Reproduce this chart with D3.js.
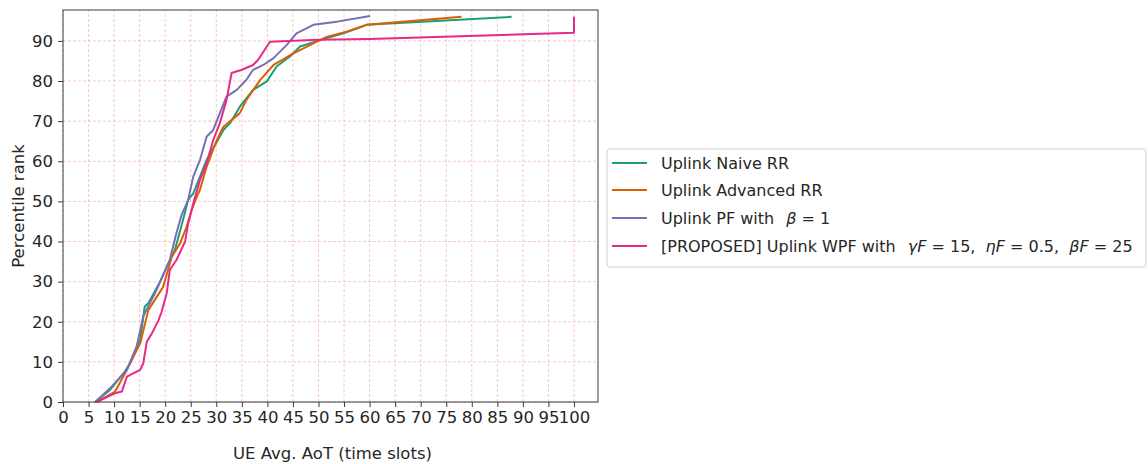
<!DOCTYPE html>
<html>
<head>
<meta charset="utf-8">
<script src="https://cdn.jsdelivr.net/npm/d3@7"></script>
<style>
  body { margin: 0; background: #fff; }
  text { font-family: "DejaVu Sans", sans-serif; fill: #262626; }
</style>
</head>
<body>
<svg id="chart" width="1148" height="464"></svg>
<script>
const width = 1148;
const height = 464;
const marginLeft = 63;
const marginRight = 550;
const marginTop = 10;
const marginBottom = 62;
const fontSize = "16.5px";
const legendFontSize = "16px";

// [AoT, percentile] pairs
const naiveRR = [
    [6.3, 0], [9.2, 3], [12.1, 7.6], [13.1, 9.6], [15.1, 15.5], [16, 23.8], [16.7, 24.6],
    [19, 30], [20.3, 33.7], [21.9, 37.9], [23.5, 45.4], [24.5, 50.4], [25.5, 52],
    [28.1, 60.3], [31.4, 67.8], [32.7, 69.5], [34.6, 73.6], [37.2, 77.8], [39.9, 79.9],
    [41.8, 83.6], [44.4, 86.1], [46.4, 88.6], [50.3, 90.2], [54.9, 91.9], [58.1, 93.4],
    [59.4, 94], [87.8, 96]
];
const advancedRR = [
    [6.6, 0], [10.2, 2.6], [12.5, 8], [15.1, 14.6], [16.7, 22.9], [19.6, 28.7],
    [21.3, 36.2], [22.9, 39.5], [24.2, 43.7], [25.2, 47.9], [26.2, 51.2], [26.8, 52.9],
    [28.1, 58.6], [30.1, 65.3], [31.4, 68.6], [34.6, 72], [35.9, 75.3], [38.6, 80.3],
    [41.2, 84], [45.1, 86.9], [49, 89.4], [51.6, 91], [55.5, 92.3], [58.1, 93.4],
    [59.4, 94], [78, 96]
];
const pfBeta1 = [
    [6.3, 0], [9.2, 3.4], [12.5, 8], [14.4, 13.8], [15.7, 21.3], [18.3, 27.9],
    [20.9, 35.4], [22.2, 42.1], [23.2, 46.6], [24.5, 50.4], [25.5, 56.2], [26.8, 60.3],
    [28.1, 66.1], [29.4, 67.8], [30.7, 72], [32, 76.1], [34, 77.8], [35.9, 80.3],
    [37.2, 82.8], [39.2, 84], [41.2, 85.7], [43.8, 89], [45.7, 91.9], [49, 94],
    [53.6, 94.8], [60.1, 96.2]
];
const proposedWPF = [
    [6.6, 0], [10.2, 2.2], [11.5, 2.6], [12.5, 6.3], [15.1, 8], [15.7, 9.6], [16.4, 15],
    [17.4, 17.1], [18.7, 20.4], [19.3, 22.5], [20.3, 27.1], [20.9, 32.9], [22.2, 35.4],
    [23.9, 40], [24.5, 44.5], [25.5, 49.5], [26.8, 55.3], [28.1, 59.5], [29.4, 65.3],
    [30.7, 69.5], [32, 75.3], [33, 82], [35, 82.8], [37.2, 84], [38.2, 85.3], [40.5, 89.8],
    [50, 90.3], [60, 90.5], [100, 92], [100, 96]
];

const seriesNames = [
    "Uplink Naive RR",
    "Uplink Advanced RR",
    "Uplink PF with β = 1",
    "[PROPOSED] Uplink WPF with γF = 15, ηF = 0.5, βF = 25"
];
const seriesData = [naiveRR, advancedRR, pfBeta1, proposedWPF];
const seriesColors = ["#1b9e77", "#d95f02", "#7570b3", "#e7298a"];

const xTicks = d3.range(0, 101, 5);
const yTicks = d3.range(0, 91, 10);

const svg = d3.select("#chart");

const x = d3.scaleLinear().domain([0, 104.7]).range([marginLeft, width - marginRight]);
const y = d3.scaleLinear().domain([0, 97.7]).range([height - marginBottom, marginTop]);

// grid
svg.append("g")
    .selectAll("line")
    .data(xTicks)
    .join("line")
    .attr("x1", d => x(d)).attr("x2", d => x(d))
    .attr("y1", y.range()[0]).attr("y2", y.range()[1])
    .attr("stroke", "#f19c9c").attr("stroke-opacity", 0.7)
    .attr("stroke-width", 0.8).attr("stroke-dasharray", "3,2");

svg.append("g")
    .selectAll("line")
    .data(yTicks)
    .join("line")
    .attr("x1", x.range()[0]).attr("x2", x.range()[1])
    .attr("y1", d => y(d)).attr("y2", d => y(d))
    .attr("stroke", "#f19c9c").attr("stroke-opacity", 0.7)
    .attr("stroke-width", 0.8).attr("stroke-dasharray", "3,2");

// curves
const line = d3.line().x(d => x(d[0])).y(d => y(d[1]));
seriesData.forEach(function (data, i) {
    svg.append("path")
        .datum(data)
        .attr("d", line)
        .attr("fill", "none")
        .attr("stroke", seriesColors[i])
        .attr("stroke-width", 2)
        .attr("stroke-linejoin", "round");
});

// frame
svg.append("rect")
    .attr("x", x.range()[0]).attr("y", y.range()[1])
    .attr("width", x.range()[1] - x.range()[0])
    .attr("height", y.range()[0] - y.range()[1])
    .attr("fill", "none").attr("stroke", "#3a3a3a").attr("stroke-width", 1);

// axes
const xAxis = svg.append("g")
    .attr("transform", `translate(0,${height - marginBottom})`)
    .call(d3.axisBottom(x).tickValues(xTicks).tickSize(5).tickPadding(4));
const yAxis = svg.append("g")
    .attr("transform", `translate(${marginLeft},0)`)
    .call(d3.axisLeft(y).tickValues(yTicks).tickSize(5).tickPadding(5));
[xAxis, yAxis].forEach(function (g) {
    g.select(".domain").remove();
    g.selectAll(".tick line").attr("stroke", "#3a3a3a");
    g.selectAll(".tick text")
        .attr("font-size", fontSize)
        .attr("font-family", "DejaVu Sans, sans-serif")
        .attr("fill", "#262626");
});

// axis labels
svg.append("text")
    .attr("x", (x.range()[0] + x.range()[1]) / 2 + 2)
    .attr("y", 459)
    .attr("text-anchor", "middle")
    .attr("font-size", fontSize)
    .text("UE Avg. AoT (time slots)");

svg.append("text")
    .attr("transform", `translate(24,${(y.range()[0] + y.range()[1]) / 2}) rotate(-90)`)
    .attr("text-anchor", "middle")
    .attr("font-size", fontSize)
    .text("Percentile rank");

// legend
const legend = svg.append("g");
legend.append("rect")
    .attr("x", 607).attr("y", 149)
    .attr("width", 539).attr("height", 118)
    .attr("rx", 3)
    .attr("fill", "#fff").attr("stroke", "#d0d0d0");

// text pieces; it = italic math letters, dx = gap before the math part
const legendItems = [
    [{ t: "Uplink Naive RR" }],
    [{ t: "Uplink Advanced RR" }],
    [{ t: "Uplink PF with" }, { t: "β", it: true, dx: 12 }, { t: " = 1" }],
    [{ t: "[PROPOSED] Uplink WPF with" },
     { t: "γF", it: true, dx: 12 }, { t: " = 15,  " },
     { t: "ηF", it: true }, { t: " = 0.5,  " },
     { t: "βF", it: true }, { t: " = 25" }]
];
const legendRows = [163, 190, 218, 246];

seriesNames.forEach(function (name, i) {
    const ly = legendRows[i];
    legend.append("line")
        .attr("x1", 612).attr("x2", 647)
        .attr("y1", ly).attr("y2", ly)
        .attr("stroke", seriesColors[i]).attr("stroke-width", 2);
    const txt = legend.append("text")
        .attr("x", 661).attr("y", ly)
        .attr("dy", "0.35em")
        .attr("font-size", legendFontSize)
        .attr("xml:space", "preserve");
    txt.append("title").text(name);
    legendItems[i].forEach(function (part) {
        txt.append("tspan")
            .attr("font-style", part.it ? "italic" : null)
            .attr("dx", part.dx || null)
            .text(part.t);
    });
});
</script>
</body>
</html>
